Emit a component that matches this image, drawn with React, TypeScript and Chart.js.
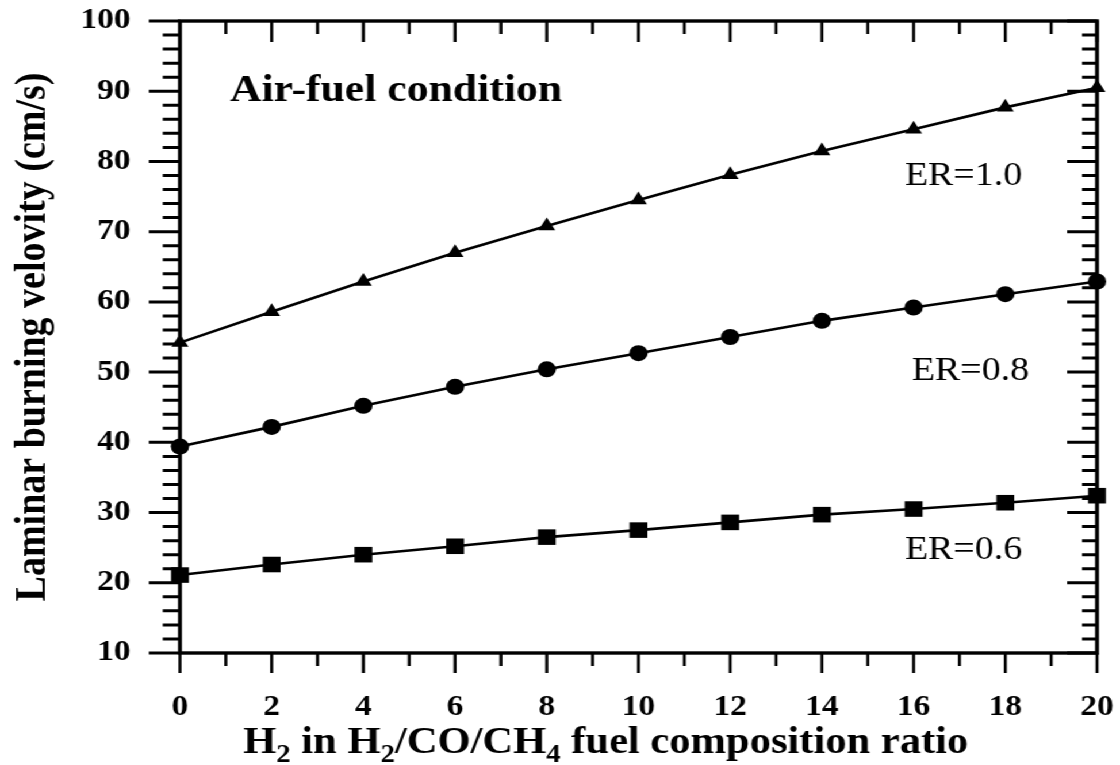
import { useEffect, useRef } from 'react';
import { Chart, registerables } from 'chart.js';

Chart.register(...registerables);

// Drawing surface: the chart is laid out on a narrower canvas and widened with a CSS scaleX,
// which gives the broad serif lettering of the figure.
const CANVAS_W = 974;
const CANVAS_H = 765;
const STRETCH = 1120 / CANVAS_W;
const SERIF = "'Liberation Serif', 'Times New Roman', Times, serif";

// H2 share in the H2/CO/CH4 fuel blend
const h2Ratio = [0, 2, 4, 6, 8, 10, 12, 14, 16, 18, 20];

// Laminar burning velocity (cm/s) for each equivalence ratio
const velocityER10 = [54.2, 58.6, 62.9, 67.0, 70.8, 74.5, 78.1, 81.5, 84.6, 87.7, 90.5];
const velocityER08 = [39.4, 42.2, 45.2, 47.9, 50.4, 52.7, 55.0, 57.3, 59.2, 61.1, 62.9];
const velocityER06 = [21.1, 22.6, 24.0, 25.2, 26.5, 27.5, 28.6, 29.7, 30.5, 31.4, 32.4];

const seriesNames = ['ER=1.0', 'ER=0.8', 'ER=0.6'];
const pointStyles = ['triangle', 'circle', 'rect'];
const pointRadii = [8.5, 8, 11];

// Axis ranges and tick spacing
const xRange = [0, 20];
const yRange = [10, 100];
const xMajorStep = 2;
const xMinorStep = 1;
const yMajorStep = 10;
const yMinorStep = 2;

// Text annotations, anchored in data units (left edge, baseline)
const panelNote = { text: 'Air-fuel condition', x: 1.09, y: 88.6 };
const seriesTagAnchors = [
  { x: 15.81, y: 76.6 },
  { x: 15.96, y: 48.9 },
  { x: 15.81, y: 23.4 },
];

const xTitleParts = [
  { t: 'H', sub: false },
  { t: '2', sub: true },
  { t: ' in H', sub: false },
  { t: '2', sub: true },
  { t: '/CO/CH', sub: false },
  { t: '4', sub: true },
  { t: ' fuel composition ratio', sub: false },
];
const yTitle = 'Laminar burning velovity (cm/s)';

// Box frame with major/minor ticks: outward on left and bottom, inward on top and right
const framePlugin = {
  id: 'frame',
  afterDatasetsDraw(chart: any) {
    const { ctx, chartArea: a, scales } = chart;
    const x = scales.x;
    const y = scales.y;
    ctx.save();
    ctx.strokeStyle = '#000';
    ctx.lineCap = 'butt';

    ctx.lineWidth = 2.6;
    for (let v = xRange[0]; v <= xRange[1] + 1e-9; v += xMinorStep) {
      const px = x.getPixelForValue(v);
      const major = Math.abs(v % xMajorStep) < 1e-9;
      ctx.beginPath();
      ctx.moveTo(px, a.bottom);
      ctx.lineTo(px, a.bottom + (major ? 20 : 13));
      ctx.moveTo(px, a.top);
      ctx.lineTo(px, a.top + (major ? 21 : 13));
      ctx.stroke();
    }

    ctx.lineWidth = 3;
    for (let v = yRange[0]; v <= yRange[1] + 1e-9; v += yMinorStep) {
      const py = y.getPixelForValue(v);
      const major = Math.abs(v % yMajorStep) < 1e-9;
      ctx.beginPath();
      ctx.moveTo(a.left - (major ? 27 : 15), py);
      ctx.lineTo(a.left, py);
      ctx.moveTo(a.right - (major ? 26 : 13), py);
      ctx.lineTo(a.right, py);
      ctx.stroke();
    }

    ctx.lineWidth = 3.4;
    ctx.strokeRect(a.left, a.top, a.right - a.left, a.bottom - a.top);
    ctx.restore();
  },
};

// Panel note, series tags and axis titles (the x title carries real subscripts)
const textPlugin = {
  id: 'texts',
  afterDraw(chart: any) {
    const { ctx, chartArea: a, scales } = chart;
    const x = scales.x;
    const y = scales.y;
    ctx.save();
    ctx.fillStyle = '#000';
    ctx.textAlign = 'left';
    ctx.textBaseline = 'alphabetic';

    ctx.font = `bold 38px ${SERIF}`;
    ctx.fillText(panelNote.text, x.getPixelForValue(panelNote.x), y.getPixelForValue(panelNote.y));

    ctx.font = `33px ${SERIF}`;
    seriesNames.forEach((name, i) => {
      const p = seriesTagAnchors[i];
      ctx.fillText(name, x.getPixelForValue(p.x), y.getPixelForValue(p.y));
    });

    // x-axis title
    let cx = a.left + 55;
    const base = a.bottom + 99.7;
    xTitleParts.forEach((part) => {
      ctx.font = part.sub ? `bold 25px ${SERIF}` : `bold 37px ${SERIF}`;
      ctx.fillText(part.t, cx, part.sub ? base + 9 : base);
      cx += ctx.measureText(part.t).width;
    });

    // y-axis title, reading bottom to top
    ctx.translate(39, (a.top + a.bottom) / 2);
    ctx.rotate(-Math.PI / 2);
    ctx.textAlign = 'center';
    ctx.font = `bold 38px ${SERIF}`;
    ctx.fillText(yTitle, 0, 0);
    ctx.restore();
  },
};

export default function App() {
  const canvasRef = useRef<HTMLCanvasElement | null>(null);

  useEffect(() => {
    const canvas = canvasRef.current;
    if (!canvas) return;

    const series = [velocityER10, velocityER08, velocityER06];
    const datasets = series.map((vals, i) => ({
      label: seriesNames[i],
      data: h2Ratio.map((h, j) => ({ x: h, y: vals[j] })),
      borderColor: '#000',
      backgroundColor: '#000',
      borderWidth: 2.6,
      pointStyle: pointStyles[i] as any,
      pointRadius: pointRadii[i],
      pointBorderWidth: 0,
      pointBackgroundColor: '#000',
      tension: 0,
      clip: false as any,
    }));

    const tickFont = { family: SERIF, size: 29, weight: 'bold' as const };

    const chart = new Chart(canvas, {
      type: 'line',
      data: { datasets },
      options: {
        responsive: false,
        animation: false,
        events: [],
        devicePixelRatio: 1,
        layout: { padding: { left: 0, right: 20, top: 21, bottom: 0 } },
        plugins: {
          legend: { display: false },
          tooltip: { enabled: false },
          title: { display: false },
        },
        scales: {
          x: {
            type: 'linear',
            position: 'bottom',
            min: xRange[0],
            max: xRange[1],
            ticks: {
              stepSize: xMajorStep,
              autoSkip: false,
              maxRotation: 0,
              color: '#000',
              font: tickFont,
              padding: 17,
            },
            grid: {
              display: true,
              drawOnChartArea: false,
              drawTicks: true,
              tickLength: 20,
              color: 'transparent',
              tickColor: 'transparent',
            },
            border: { display: false },
            afterFit: (s: any) => {
              s.height = 112;
              s.paddingLeft = 0;
              s.paddingRight = 0;
            },
          },
          y: {
            type: 'linear',
            position: 'left',
            min: yRange[0],
            max: yRange[1],
            ticks: {
              stepSize: yMajorStep,
              autoSkip: false,
              color: '#000',
              font: tickFont,
              padding: 16,
            },
            grid: {
              display: true,
              drawOnChartArea: false,
              drawTicks: true,
              tickLength: 27,
              color: 'transparent',
              tickColor: 'transparent',
            },
            border: { display: false },
            afterFit: (s: any) => {
              s.width = 156.5;
              s.paddingTop = 0;
              s.paddingBottom = 0;
            },
          },
        },
      },
      plugins: [framePlugin, textPlugin],
    });

    return () => chart.destroy();
  }, []);

  return (
    <div
      style={{
        position: 'fixed',
        left: 0,
        top: 0,
        width: CANVAS_W,
        height: CANVAS_H,
        background: '#fff',
        transform: `scaleX(${STRETCH})`,
        transformOrigin: '0 0',
      }}
    >
      <canvas ref={canvasRef} width={CANVAS_W} height={CANVAS_H} style={{ display: 'block' }} />
    </div>
  );
}
